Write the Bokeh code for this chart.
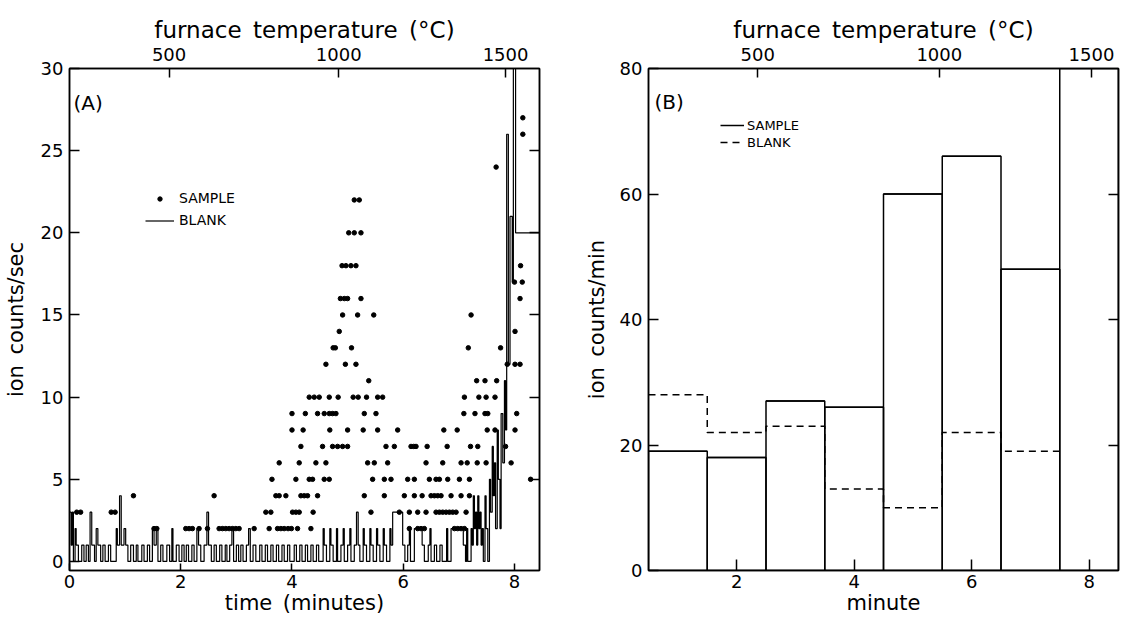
from bokeh.plotting import figure
from bokeh.models import LinearAxis, FixedTicker, Legend, LegendItem, Label, Range1d
from bokeh.layouts import row
from bokeh.embed import file_html
from bokeh.resources import INLINE

FONT = "DejaVu Sans"
SP = "\u2002"   # wide word gap, as in the original lettering

# ---------------- Panel A data ----------------
# SAMPLE dots: one list of times (minutes) per count level (ion counts/sec)
sample_levels = [2, 3, 4, 5, 6, 7, 8, 9, 10, 11, 12, 13, 14, 15, 16, 17, 18, 20, 22, 24, 26, 27]
sample_times = [
    [1.52, 1.57, 2.09, 2.15, 2.21, 2.33, 2.48, 2.69, 2.75, 2.81, 2.87, 2.93, 2.99, 3.05, 3.32,
     3.59, 3.74, 3.80, 3.86, 3.93, 3.99, 4.10, 4.34, 6.11, 6.26, 6.32, 6.38, 6.92, 6.98, 7.04, 7.10],
    [0.13, 0.20, 0.75, 0.82, 3.53, 3.62, 4.01, 4.07, 4.13, 4.38, 5.42, 5.93, 6.11, 6.26, 6.41,
     6.59, 6.65, 6.71, 6.77, 6.83, 6.89, 6.95, 7.13],
    [1.15, 2.60, 3.71, 3.77, 3.89, 4.16, 4.22, 4.28, 4.46, 5.30, 5.66, 6.02, 6.20, 6.34, 6.50,
     6.56, 6.62, 6.68, 6.86, 7.04, 7.19],
    [3.64, 4.07, 4.31, 4.37, 4.58, 4.67, 5.45, 5.66, 5.78, 6.08, 6.20, 6.47, 6.59, 6.65, 6.80,
     7.01, 7.19, 8.29],
    [3.77, 4.13, 4.43, 4.61, 5.36, 5.48, 5.72, 6.41, 6.71, 7.04, 7.15, 7.33, 7.49, 7.94],
    [4.16, 4.55, 4.73, 4.82, 4.91, 5.00, 5.69, 5.84, 6.14, 6.19, 6.23, 6.43, 6.79, 7.21, 7.34, 7.84],
    [4.00, 4.20, 4.68, 5.00, 5.28, 5.54, 5.90, 6.73, 6.97, 7.51, 7.65, 8.01],
    [4.00, 4.24, 4.46, 4.58, 4.67, 4.73, 4.79, 5.30, 5.51, 7.09, 7.29, 7.47, 7.52, 8.04],
    [4.31, 4.40, 4.49, 4.67, 4.83, 5.10, 5.19, 5.34, 5.54, 5.63, 7.10, 7.36, 7.49, 7.65],
    [5.38, 7.32, 7.47, 7.68],
    [4.61, 4.96, 5.15, 7.87, 8.01, 8.10],
    [4.74, 4.78, 5.07, 7.17, 7.75],
    [4.85, 8.01],
    [4.91, 5.18, 5.47, 7.22],
    [4.87, 4.94, 5.00, 5.24, 8.10],
    [8.00, 8.14],
    [4.90, 4.97, 5.06, 5.15, 8.11],
    [5.02, 5.12, 5.24],
    [5.12, 5.21],
    [7.67],
    [8.15],
    [8.15],
]

# BLANK trace (step): time (minutes) and counts/sec
blank_t = [
    0.00, 0.03, 0.05, 0.07, 0.10, 0.12, 0.16, 0.22, 0.26, 0.30, 0.34, 0.37, 0.40, 0.45, 0.48, 0.51, 0.56, 0.60, 0.64, 0.70,
    0.74, 0.84, 0.86, 0.90, 0.93, 0.98, 1.01, 1.05,
    1.10, 1.15, 1.20, 1.23, 1.30, 1.34, 1.40, 1.44, 1.49, 1.52, 1.56, 1.59, 1.64, 1.68, 1.75, 1.80, 1.84, 1.86, 1.92, 1.97,
    2.02, 2.06, 2.10, 2.14, 2.20, 2.24, 2.29, 2.32, 2.36, 2.42, 2.47, 2.50, 2.55, 2.60, 2.64, 2.70, 2.74, 2.80, 2.83, 2.88,
    2.92, 2.95,
    3.00, 3.04, 3.08, 3.12, 3.18, 3.22, 3.25, 3.30, 3.35, 3.42, 3.46, 3.52, 3.56, 3.62, 3.66, 3.72, 3.76, 3.82, 3.86, 3.92,
    3.96,
    4.04, 4.08, 4.14, 4.18, 4.24, 4.28, 4.34, 4.38, 4.44, 4.48, 4.56, 4.58, 4.62, 4.68, 4.70, 4.74, 4.80, 4.82, 4.88, 4.92,
    4.94,
    5.00, 5.04, 5.06, 5.12, 5.16, 5.19, 5.22, 5.28, 5.30, 5.34, 5.40, 5.42, 5.46, 5.52, 5.54, 5.58, 5.64, 5.66, 5.70, 5.76,
    5.78, 5.81, 5.99, 6.03,
    6.08, 6.11, 6.13, 6.20, 6.34, 6.38, 6.45, 6.48, 6.50, 6.56, 6.60, 6.66, 6.70, 6.78, 6.80, 6.86, 7.08, 7.12, 7.14, 7.16,
    7.20, 7.22, 7.24, 7.26, 7.28, 7.30, 7.32, 7.34, 7.36, 7.38, 7.40, 7.42, 7.44, 7.47, 7.49, 7.52, 7.55, 7.57, 7.60, 7.62,
    7.64, 7.66, 7.69, 7.71, 7.74, 7.76, 7.79, 7.82, 7.84, 7.86, 7.89, 7.92, 7.96, 7.98, 8.02, 8.45,
]
blank_c = [
    3, 1, 3, 0, 2, 1, 0, 1, 0, 1, 0, 3, 1, 0, 2, 1, 0, 1, 0, 1,
    0, 2, 1, 4, 1, 2, 1, 0,
    1, 0, 1, 0, 1, 0, 1, 0, 2, 1, 2, 0, 1, 0, 1, 0, 2, 0, 1, 0,
    1, 0, 1, 0, 1, 0, 2, 1, 0, 1, 3, 1, 0, 1, 0, 1, 0, 1, 0, 1,
    2, 0,
    1, 0, 1, 0, 1, 2, 0, 1, 0, 1, 0, 1, 0, 1, 0, 1, 0, 1, 0, 1,
    0,
    1, 0, 1, 0, 1, 0, 1, 0, 1, 0, 2, 1, 0, 2, 1, 0, 2, 0, 1, 2,
    0,
    1, 2, 0, 1, 3, 1, 0, 2, 1, 0, 2, 1, 0, 2, 1, 0, 2, 1, 0, 2,
    1, 3, 1, 0,
    1, 2, 0, 2, 1, 0, 1, 2, 0, 1, 0, 1, 0, 2, 0, 2, 1, 0, 2, 0,
    0, 2, 1, 4, 2, 3, 1, 4, 2, 3, 1, 2, 0, 4, 2, 0, 5, 3, 7, 4,
    6, 2, 8, 5, 2, 9, 6, 11, 8, 26, 12, 21, 17, 32, 20, 20,
]

temp_ticks_a = [1.79, 4.84, 7.84]
temp_labels = ["500", "1000", "1500"]

# ---------------- Panel B data ----------------
minutes = [1, 2, 3, 4, 5, 6, 7, 8]
sample_b = [19, 18, 27, 26, 60, 66, 48, 85]   # last bin runs off scale
blank_b = [28, 22, 23, 13, 10, 22, 19]
temp_ticks_b = [2.36, 5.45, 8.04]


def style_axis(ax, tick_len=10):
    ax.major_tick_in = tick_len
    ax.major_tick_out = 0
    ax.minor_tick_in = 0
    ax.minor_tick_out = 0
    ax.major_tick_line_width = 1.5
    ax.major_tick_line_color = "black"
    ax.axis_line_width = 1.5
    ax.axis_line_color = "black"
    ax.major_label_text_font = FONT
    ax.major_label_text_font_size = "18px"
    ax.major_label_text_color = "black"
    ax.axis_label_text_font = FONT
    ax.axis_label_text_font_size = "21px"
    ax.axis_label_text_font_style = "normal"
    ax.axis_label_text_color = "black"


def base_fig(xr, yr, fw, fh, bl, br):
    p = figure(frame_width=fw, frame_height=fh, x_range=xr, y_range=yr,
               output_backend="svg", toolbar_location=None,
               min_border_left=bl, min_border_right=br, min_border_top=68, min_border_bottom=44)
    p.xgrid.visible = False
    p.ygrid.visible = False
    p.outline_line_color = "black"
    p.outline_line_width = 1.5
    p.background_fill_color = "white"
    p.border_fill_color = "white"
    return p


# ---------------- Panel A ----------------
pa = base_fig(Range1d(0, 8.45), Range1d(-0.55, 30), 470, 502, 62, 42)
xa = pa.xaxis[0]
xa.ticker = FixedTicker(ticks=[0, 2, 4, 6, 8])
xa.axis_label = "time" + SP + "(minutes)"
style_axis(xa, 7)
xa.major_label_standoff = 4
xa.axis_label_standoff = 0
ya = pa.yaxis[0]
ya.ticker = FixedTicker(ticks=[0, 5, 10, 15, 20, 25, 30])
ya.axis_label = "ion" + SP + "counts/sec"
style_axis(ya, 10)
ya.major_label_standoff = 6
ya.axis_label_standoff = 10

top_a = LinearAxis(ticker=FixedTicker(ticks=temp_ticks_a),
                   major_label_overrides=dict(zip(temp_ticks_a, temp_labels)),
                   axis_label="furnace" + SP + "temperature" + SP + "(°C)")
style_axis(top_a, 9)
top_a.axis_label_text_font_size = "23px"
top_a.major_label_standoff = 8
top_a.axis_label_standoff = 2
pa.add_layout(top_a, "above")

right_ticks_a = [5, 10, 15, 20, 25]
right_a = LinearAxis(ticker=FixedTicker(ticks=right_ticks_a),
                     major_label_overrides={t: "" for t in right_ticks_a})
style_axis(right_a, 10)
pa.add_layout(right_a, "right")

sx, sy = [], []
for lev, ts in zip(sample_levels, sample_times):
    for t in ts:
        sx.append(t)
        sy.append(lev)

r_blank = pa.step(blank_t, blank_c, mode="after", line_color="black", line_width=1.2)
r_samp = pa.scatter(sx, sy, size=4.5, color="black")

leg_a = Legend(items=[LegendItem(label="SAMPLE", renderers=[r_samp]),
                      LegendItem(label="BLANK", renderers=[r_blank])],
               location=(76, 340), glyph_width=29, glyph_height=11, label_height=20,
               spacing=2, padding=0, margin=0, label_standoff=5,
               label_text_font=FONT, label_text_font_size="14px", label_text_color="black",
               background_fill_alpha=0, border_line_alpha=0)
pa.add_layout(leg_a)
pa.add_layout(Label(x=0.07, y=27.9, text="(A)", text_font=FONT, text_font_size="20px",
                    text_baseline="middle", text_color="black"))

# ---------------- Panel B ----------------
pb = base_fig(Range1d(0.5, 8.5), Range1d(0, 80), 470, 502, 60, 5)
xb = pb.xaxis[0]
xb.ticker = FixedTicker(ticks=[2, 4, 6, 8])
xb.axis_label = "minute"
style_axis(xb, 11)
xb.major_label_standoff = 4
xb.axis_label_standoff = 0
yb = pb.yaxis[0]
yb.ticker = FixedTicker(ticks=[0, 20, 40, 60, 80])
yb.axis_label = "ion" + SP + "counts/min"
style_axis(yb, 10)
yb.major_label_standoff = 6
yb.axis_label_standoff = 8

top_b = LinearAxis(ticker=FixedTicker(ticks=temp_ticks_b),
                   major_label_overrides=dict(zip(temp_ticks_b, temp_labels)),
                   axis_label="furnace" + SP + "temperature" + SP + "(°C)")
style_axis(top_b, 9)
top_b.axis_label_text_font_size = "23px"
top_b.major_label_standoff = 8
top_b.axis_label_standoff = 2
pb.add_layout(top_b, "above")

right_ticks_b = [20, 40, 60]
right_b = LinearAxis(ticker=FixedTicker(ticks=right_ticks_b),
                     major_label_overrides={t: "" for t in right_ticks_b})
style_axis(right_b, 10)
pb.add_layout(right_b, "right")

r_bars = pb.vbar(x=minutes, width=1, top=sample_b, bottom=0,
                 fill_color=None, line_color="black", line_width=1.5)

# bin-top outlines (used as the line key for the legend)
tx, ty = [], []
for m, v in zip(minutes, sample_b):
    tx += [m - 0.5, m + 0.5, float("nan")]
    ty += [v, v, float("nan")]
r_sl = pb.line(tx, ty, line_color="black", line_width=1.5)

bx, by = [], []
for m, v in zip(minutes, blank_b):
    bx += [m - 0.5, m + 0.5]
    by += [v, v]
r_bl = pb.line(bx, by, line_color="black", line_width=1.5, line_dash="7 5")

leg_b = Legend(items=[LegendItem(label="SAMPLE", renderers=[r_sl]),
                      LegendItem(label="BLANK", renderers=[r_bl])],
               location=(72, 420), glyph_width=24, glyph_height=16, label_height=16,
               spacing=1, padding=0, margin=0, label_standoff=3,
               label_text_font=FONT, label_text_font_size="13px", label_text_color="black",
               background_fill_alpha=0, border_line_alpha=0)
pb.add_layout(leg_b)
pb.add_layout(Label(x=0.6, y=74.6, text="(B)", text_font=FONT, text_font_size="20px",
                    text_baseline="middle", text_color="black"))

layout = row(pa, pb)
open("out.html", "w").write(file_html(layout, INLINE))
